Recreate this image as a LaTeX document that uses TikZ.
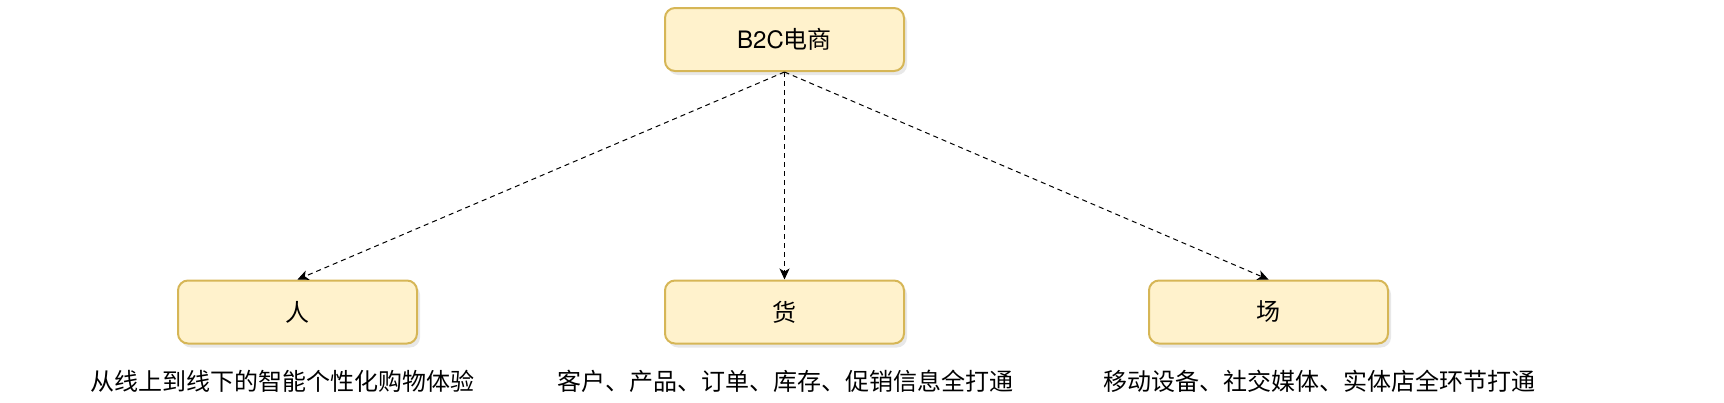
\documentclass[tikz,border=0pt]{standalone}
\usepackage{fontspec}
\setmainfont{TeX Gyre Heros}
\newfontfamily\cjk{Noto Sans CJK SC}
\usetikzlibrary{arrows.meta,shadows}
\definecolor{boxfill}{HTML}{FFF2CC}
\definecolor{boxline}{HTML}{D6B656}
\tikzset{
  box/.style={draw=boxline,fill=boxfill,line width=1pt,rounded corners=5pt,
    minimum width=119.5pt,minimum height=31.5pt,font=\fontsize{12}{14}\selectfont,
    drop shadow={opacity=0.18,shadow xshift=1.5pt,shadow yshift=-2pt}},
  link/.style={dash pattern=on 2.5pt off 2pt,line width=0.5pt,-{Stealth[length=5.5pt,width=5pt,inset=1.5pt]}},
  note/.style={font=\cjk\fontsize{12}{14}\selectfont}
}
\begin{document}
\begin{tikzpicture}[x=0.5pt,y=-0.5pt]
            \useasboundingbox (0,0) rectangle (1724,402);
            \node[box] (b2c) at (784.5,39.5) {B2C{\cjk 电商}};
            \node[box] (ren) at (297.5,312) {\cjk 人};
            \node[box] (huo) at (784.5,312) {\cjk 货};
            \node[box] (chang) at (1268.5,312) {\cjk 场};

            \draw[link] (b2c.south)--(ren.north);
            \draw[link] (b2c.south)--(huo.north);
            \draw[link] (b2c.south)--(chang.north);

            \node[note] (renNote) at (282,381) {从线上到线下的智能个性化购物体验};
            \node[note] (huoNote) at (785,381) {客户、产品、订单、库存、促销信息全打通};
            \node[note] (changNote) at (1319,381) {移动设备、社交媒体、实体店全环节打通};
        \end{tikzpicture}
\end{document}
